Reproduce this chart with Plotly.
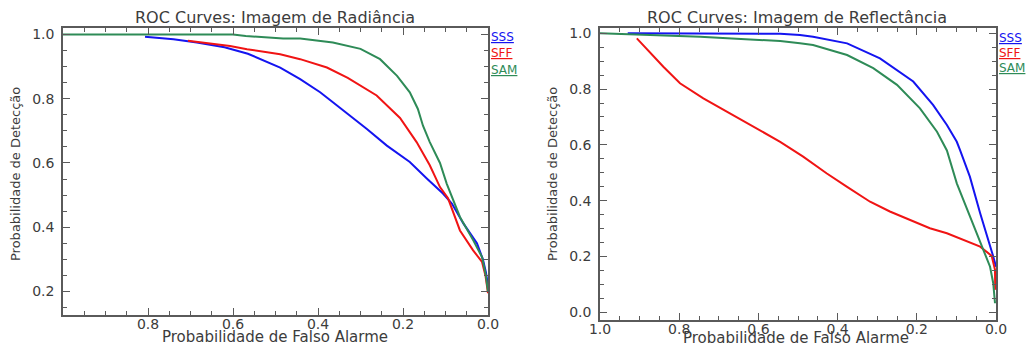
import plotly.graph_objects as go

# ---- Data ----
# Left panel: Imagem de Radiância
rad_sss_x = [0.807, 0.74, 0.685, 0.62, 0.565, 0.52, 0.489, 0.442, 0.395, 0.365, 0.325, 0.285, 0.238, 0.184, 0.144, 0.106, 0.085, 0.058, 0.026, 0.012, 0.005, 0.0]
rad_sss_y = [0.993, 0.985, 0.975, 0.96, 0.94, 0.915, 0.897, 0.861, 0.82, 0.789, 0.748, 0.706, 0.654, 0.603, 0.552, 0.505, 0.474, 0.412, 0.35, 0.30, 0.26, 0.22]

rad_sff_x = [0.706, 0.65, 0.607, 0.567, 0.489, 0.442, 0.379, 0.33, 0.262, 0.207, 0.168, 0.137, 0.113, 0.094, 0.066, 0.035, 0.014, 0.006, 0.0]
rad_sff_y = [0.98, 0.972, 0.964, 0.954, 0.938, 0.923, 0.897, 0.865, 0.81, 0.74, 0.665, 0.593, 0.525, 0.49, 0.39, 0.328, 0.292, 0.25, 0.195]

rad_sam_x = [1.0, 0.6, 0.57, 0.482, 0.442, 0.395, 0.365, 0.3, 0.254, 0.214, 0.184, 0.165, 0.153, 0.137, 0.113, 0.097, 0.066, 0.035, 0.014, 0.005, 0.0]
rad_sam_y = [1.0, 1.0, 0.995, 0.987, 0.987, 0.98, 0.975, 0.955, 0.923, 0.871, 0.82, 0.768, 0.716, 0.665, 0.60, 0.535, 0.432, 0.36, 0.307, 0.25, 0.2]

# Right panel: Imagem de Reflectância
ref_sss_x = [0.93, 0.705, 0.545, 0.495, 0.462, 0.376, 0.293, 0.209, 0.159, 0.124, 0.099, 0.091, 0.066, 0.04, 0.019, 0.007, 0.0]
ref_sss_y = [1.0, 1.0, 0.998, 0.994, 0.988, 0.964, 0.91, 0.827, 0.743, 0.671, 0.611, 0.582, 0.486, 0.355, 0.259, 0.2, 0.163]

ref_sff_x = [0.907, 0.84, 0.798, 0.739, 0.672, 0.613, 0.545, 0.487, 0.428, 0.377, 0.318, 0.268, 0.217, 0.167, 0.124, 0.091, 0.04, 0.011, 0.0025, 0.002]
ref_sff_y = [0.982, 0.88, 0.821, 0.767, 0.713, 0.665, 0.611, 0.558, 0.498, 0.45, 0.396, 0.361, 0.331, 0.301, 0.283, 0.265, 0.235, 0.202, 0.152, 0.08]

ref_sam_x = [1.0, 0.917, 0.747, 0.621, 0.545, 0.495, 0.462, 0.376, 0.31, 0.25, 0.192, 0.149, 0.124, 0.099, 0.066, 0.032, 0.015, 0.007, 0.0025]
ref_sam_y = [1.0, 0.996, 0.988, 0.978, 0.972, 0.964, 0.958, 0.922, 0.875, 0.815, 0.731, 0.647, 0.58, 0.462, 0.343, 0.223, 0.163, 0.104, 0.032]

series_names = ["SSS", "SFF", "SAM"]
left_title = "ROC Curves: Imagem de Radiância"
right_title = "ROC Curves: Imagem de Reflectância"
x_title = "Probabilidade de Falso Alarme"
y_title = "Probabilidade de Detecção"
left_xticks = [0.8, 0.6, 0.4, 0.2, 0.0]
right_xticks = [1.0, 0.8, 0.6, 0.4, 0.2, 0.0]
left_yticks = [0.2, 0.4, 0.6, 0.8, 1.0]
right_yticks = [0.0, 0.2, 0.4, 0.6, 0.8, 1.0]

# ---- Styling ----
W, H = 1027, 350
colors = {"SSS": "#1414f0", "SFF": "#f01414", "SAM": "#2e8b57"}
FONT = "DejaVu Sans"
TXT = "#3c3c3c"
AX = "#5a5a5a"

fig = go.Figure()
left = [(rad_sss_x, rad_sss_y), (rad_sff_x, rad_sff_y), (rad_sam_x, rad_sam_y)]
right = [(ref_sss_x, ref_sss_y), (ref_sff_x, ref_sff_y), (ref_sam_x, ref_sam_y)]
for name, (xs, ys) in zip(series_names, left):
    fig.add_trace(go.Scatter(x=xs, y=ys, mode="lines", name=name,
                             line=dict(color=colors[name], width=2),
                             xaxis="x", yaxis="y", showlegend=False))
for name, (xs, ys) in zip(series_names, right):
    fig.add_trace(go.Scatter(x=xs, y=ys, mode="lines", name=name,
                             line=dict(color=colors[name], width=2),
                             xaxis="x2", yaxis="y2", showlegend=False))

def px_x(p):
    return p / W

def px_y(p):
    return 1 - p / H

axis_common = dict(showline=True, linecolor=AX, linewidth=1.5, mirror="ticks",
                   ticks="inside", ticklen=7, tickwidth=1, tickcolor=AX,
                   showgrid=False, zeroline=False, automargin=False,
                   tickfont=dict(family=FONT, size=14, color=TXT),
                   minor=dict(ticks="inside", ticklen=4, tickcolor=AX, dtick=0.05, tick0=0, showgrid=False))

fig.update_layout(
    template="none",
    width=W, height=H,
    margin=dict(l=0, r=0, t=0, b=0, pad=0),
    paper_bgcolor="white", plot_bgcolor="white",
    showlegend=False,
    xaxis=dict(domain=[px_x(63), px_x(488)], range=[1.0, 0.0], tickvals=left_xticks,
               tickformat=".1f", anchor="y", ticklabelstandoff=-5, **axis_common),
    yaxis=dict(domain=[px_y(315), px_y(28)], range=[0.127, 1.02], tickvals=left_yticks,
               tickformat=".1f", anchor="x", ticklabelstandoff=4, **axis_common),
    xaxis2=dict(domain=[px_x(600), px_x(996)], range=[1.0, 0.0], tickvals=right_xticks,
                tickformat=".1f", anchor="y2", ticklabelstandoff=-5, **axis_common),
    yaxis2=dict(domain=[px_y(320), px_y(28)], range=[-0.028, 1.019], tickvals=right_yticks,
                tickformat=".1f", anchor="x2", ticklabelstandoff=4, **axis_common),
)

ann = []
def add_text(text, x, y, size=14, angle=0, xanchor="center", color=TXT):
    ann.append(dict(text=text, x=px_x(x), y=px_y(y), xref="paper", yref="paper",
                    showarrow=False, xanchor=xanchor, yanchor="middle", textangle=angle,
                    font=dict(family=FONT, size=size, color=color)))

add_text(left_title, 275, 17, size=16)
add_text(right_title, 797, 17, size=16)
add_text(x_title, 275, 337, size=15)
add_text(x_title, 796, 338, size=15)
add_text(y_title, 15, 174, size=13, angle=-90)
add_text(y_title, 552, 174, size=13, angle=-90)

for name, yy in zip(series_names, [37, 53, 70]):
    add_text("<u>" + name + "</u>", 489, yy, size=12, xanchor="left", color=colors[name])
for name, yy in zip(series_names, [38, 53, 68]):
    add_text("<u>" + name + "</u>", 997, yy, size=12, xanchor="left", color=colors[name])

fig.update_layout(annotations=ann)
fig.write_html("out.html", config={"displayModeBar": False},
               post_script="document.body.style.margin='0';document.body.style.overflow='hidden';")
